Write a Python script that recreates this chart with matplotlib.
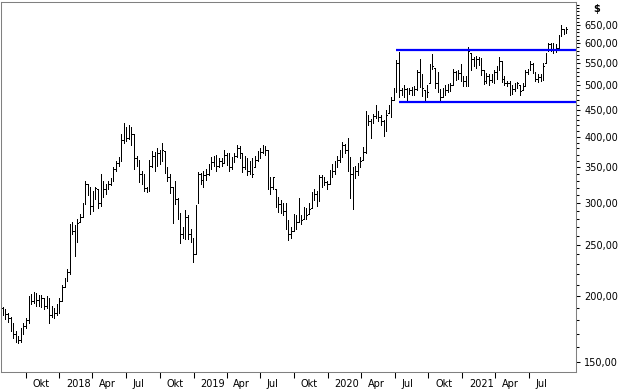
import numpy as np
import pandas as pd
import matplotlib
matplotlib.use("Agg")
import matplotlib.pyplot as plt
import matplotlib.dates as mdates
from matplotlib.ticker import FixedLocator, FuncFormatter, NullFormatter
from matplotlib.transforms import ScaledTranslation

# weekly bars
first_week = "2017-07-31"
first_open = 190

closes = [188, 185, 182, 176, 170, 166, 165, 172, 176, 180,
          198, 196, 200, 197, 194, 198, 192, 193, 184, 188,
          186, 190, 196, 208, 213, 222, 270, 265, 245, 275,
          282, 296, 325, 320, 296, 312, 320, 300, 328, 318,
          322, 326, 332, 348, 356, 362, 395, 412, 398, 410,
          405, 365, 358, 340, 336, 320, 318, 352, 368, 360,
          372, 365, 378, 348, 335, 322, 300, 305, 288, 262,
          265, 282, 262, 256, 240, 282, 340, 332, 338, 340,
          350, 358, 362, 352, 360, 356, 370, 362, 350, 360,
          368, 380, 372, 350, 362, 345, 355, 340, 362, 370,
          375, 382, 378, 325, 322, 335, 300, 298, 292, 290,
          292, 262, 265, 272, 276, 282, 278, 288, 285, 292,
          305, 312, 300, 335, 332, 328, 325, 340, 345, 355,
          362, 370, 385, 378, 355, 340, 330, 345, 352, 360,
          375, 430, 428, 405, 438, 450, 435, 428, 420, 440,
          452, 470, 492, 550, 490, 488, 492, 485, 490, 488,
          492, 530, 505, 495, 470, 485, 540, 545, 505, 500,
          475, 488, 490, 495, 500, 530, 520, 528, 540, 510,
          505, 580, 560, 555, 560, 552, 535, 510, 520, 512,
          515, 530, 540, 555, 515, 505, 505, 490, 492, 495,
          505, 488, 495, 530, 530, 548, 540, 515, 518, 515,
          545, 570, 598, 590, 585, 588, 615, 640, 632, 638]

highs = [191, 189, 186, 183, 178, 172, 168, 174, 178, 182,
         200, 202, 204, 203, 201, 201, 198, 200, 198, 192,
         190, 193, 198, 210, 216, 225, 274, 276, 272, 280,
         286, 300, 330, 326, 322, 316, 322, 318, 340, 330,
         326, 330, 334, 350, 360, 366, 404, 424, 418, 420,
         418, 405, 368, 362, 345, 340, 322, 361, 376, 374,
         380, 378, 389, 376, 350, 340, 322, 330, 307, 287,
         270, 291, 285, 268, 258, 297, 343, 342, 344, 348,
         355, 366, 368, 370, 365, 364, 378, 372, 372, 366,
         372, 386, 384, 372, 368, 365, 360, 365, 368, 376,
         380, 386, 384, 378, 336, 336, 318, 308, 304, 300,
         300, 278, 270, 286, 284, 307, 284, 295, 294, 300,
         314, 318, 316, 338, 338, 336, 330, 346, 355, 360,
         368, 377, 391, 388, 398, 366, 350, 352, 356, 366,
         382, 447, 440, 432, 442, 460, 448, 440, 430, 450,
         460, 475, 495, 558, 578, 495, 500, 495, 495, 496,
         498, 535, 560, 525, 490, 500, 548, 574, 540, 530,
         492, 495, 500, 502, 505, 538, 532, 535, 548, 520,
         520, 592, 575, 565, 568, 565, 562, 534, 528, 525,
         525, 535, 545, 565, 555, 520, 510, 510, 500, 505,
         508, 500, 505, 534, 538, 555, 552, 530, 525, 525,
         550, 575, 602, 600, 600, 598, 622, 650, 640, 645]

lows = [184, 181, 179, 172, 167, 164, 163, 164, 170, 174,
        178, 193, 194, 192, 192, 191, 189, 190, 178, 183,
        182, 184, 186, 196, 208, 214, 220, 262, 238, 253,
        276, 282, 299, 310, 286, 290, 305, 294, 296, 308,
        312, 318, 324, 330, 345, 352, 360, 390, 392, 396,
        385, 347, 352, 328, 325, 316, 314, 316, 350, 345,
        352, 355, 360, 342, 330, 313, 275, 298, 280, 252,
        258, 256, 256, 253, 232, 240, 300, 325, 322, 332,
        338, 348, 352, 345, 350, 352, 356, 354, 345, 348,
        358, 366, 364, 343, 348, 338, 340, 336, 350, 360,
        365, 372, 370, 318, 312, 318, 295, 288, 287, 285,
        268, 255, 258, 266, 268, 276, 274, 280, 280, 286,
        294, 304, 296, 302, 322, 324, 318, 325, 336, 340,
        350, 358, 366, 372, 345, 307, 292, 334, 338, 350,
        362, 372, 420, 398, 425, 434, 428, 420, 402, 410,
        443, 436, 470, 486, 475, 480, 475, 470, 482, 480,
        480, 490, 497, 478, 465, 475, 505, 538, 495, 485,
        465, 475, 480, 485, 488, 500, 512, 515, 510, 498,
        498, 498, 534, 545, 540, 546, 522, 502, 505, 500,
        508, 505, 515, 535, 507, 500, 498, 480, 482, 488,
        495, 480, 490, 498, 525, 534, 528, 510, 508, 510,
        512, 550, 580, 580, 575, 578, 588, 620, 625, 628]

quarter_starts = pd.date_range("2017-10-01", "2021-07-01", freq="QS")
quarter_labels = ["Okt", "2018", "Apr", "Jul", "Okt", "2019", "Apr", "Jul",
                  "Okt", "2020", "Apr", "Jul", "Okt", "2021", "Apr", "Jul"]

price_ticks = [150, 200, 250, 300, 350, 400, 450, 500, 550, 600, 650]
minor_ticks = [p for p in range(150, 720, 10) if p not in price_ticks]

# channel lines
resistance = 583
resistance_from = "2020-07-04"
support = 466
support_from = "2020-07-12"

dates = pd.date_range(first_week, periods=len(closes), freq="7D")
x = mdates.date2num(dates)
opens = np.clip([first_open] + closes[:-1], lows, highs)

fig = plt.figure(figsize=(6.26, 3.92), dpi=100)
ax = fig.add_axes([0.8 / 626, 20 / 392, 575 / 626, 370 / 392])

half = 1.6  # days, length of open/close ticks
bar_kw = dict(color="black", lw=0.6, antialiased=False, capstyle="butt")
ax.vlines(x, lows, highs, **bar_kw)
ax.hlines(opens, x - half, x, **bar_kw)
ax.hlines(closes, x, x + half, **bar_kw)

x_left = x[0] - 5.5
x_right = x[0] + 1559
ax.hlines(resistance, mdates.date2num(pd.Timestamp(resistance_from)), x_right,
          color="#0000ff", lw=1.6)
ax.hlines(support, mdates.date2num(pd.Timestamp(support_from)), x_right,
          color="#0000ff", lw=1.6)

ax.set_yscale("log")
ax.set_ylim(143.8, 718.4)
ax.set_xlim(x_left, x_right)

ax.yaxis.tick_right()
ax.yaxis.set_major_locator(FixedLocator(price_ticks))
ax.yaxis.set_minor_locator(FixedLocator(minor_ticks))
ax.yaxis.set_major_formatter(FuncFormatter(lambda v, p: f"{v:.2f}".replace(".", ",")))
ax.yaxis.set_minor_formatter(NullFormatter())
ax.tick_params(axis="y", which="major", length=3, width=0.75, pad=3, labelsize=7)
ax.tick_params(axis="y", which="minor", length=2, width=0.75)

ax.set_xticks(mdates.date2num(quarter_starts))
ax.set_xticklabels(quarter_labels)
ax.xaxis.set_minor_locator(FixedLocator([]))
ax.tick_params(axis="x", which="major", length=4.3, width=0.75, pad=1, labelsize=7)
shift = ScaledTranslation(6.7 / 100, 0, fig.dpi_scale_trans)
for lab in ax.get_xticklabels():
    lab.set_horizontalalignment("left")
    lab.set_transform(lab.get_transform() + shift)

for s in ax.spines.values():
    s.set_color("#808080")
    s.set_linewidth(0.75)

fig.text(597 / 626, 1 - 9 / 392, "$", ha="center", va="center",
         fontsize=7, fontweight="bold")

fig.savefig("out.png", dpi=100)
